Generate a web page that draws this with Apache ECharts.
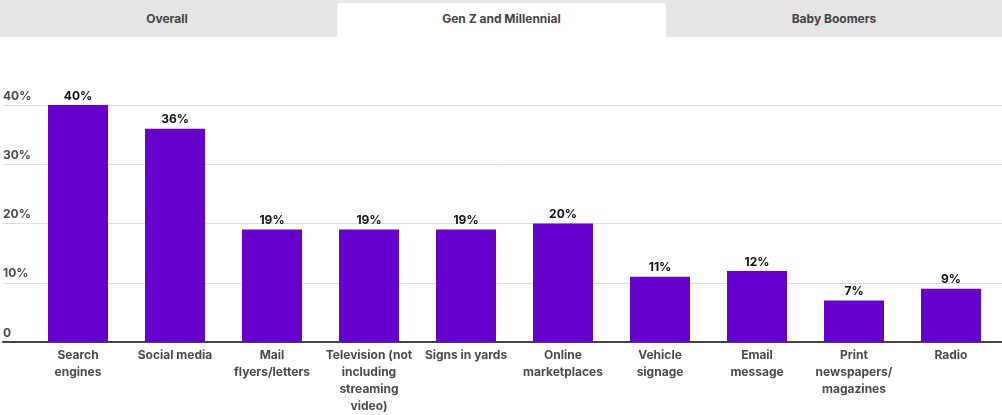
<!DOCTYPE html>
<html>
<head>
<meta charset="utf-8">
<script src="https://cdn.jsdelivr.net/npm/echarts@6/dist/echarts.min.js"></script>
<style>
  html, body { margin: 0; padding: 0; background: #fff; }
  body { width: 1002px; height: 415px; position: relative; overflow: hidden; font-family: Inter, "Open Sans", sans-serif; }
  .tabs { position: absolute; left: 0; top: 0; width: 1002px; height: 37px; background: #e5e5e5; z-index: 2; }
  .tab { position: absolute; top: 0; height: 37px; line-height: 37px; text-align: center; font-size: 12px; font-weight: 700; color: #444; }
  .tab.active { top: 3px; height: 34px; line-height: 31px; background: #fff; border-radius: 4px 4px 0 0; }
  #chart { position: absolute; left: 0; top: 0; width: 1002px; height: 415px; }
</style>
</head>
<body>
<div id="chart"></div>
<div class="tabs" id="tabs"></div>
<script>
const tabNames = ['Overall', 'Gen Z and Millennial', 'Baby Boomers'];
const activeTab = 1;

const categories = [
  'Search\nengines',
  'Social media',
  'Mail\nflyers/letters',
  'Television (not\nincluding\nstreaming\nvideo)',
  'Signs in yards',
  'Online\nmarketplaces',
  'Vehicle\nsignage',
  'Email\nmessage',
  'Print\nnewspapers/\nmagazines',
  'Radio'
];
const shares = [40, 36, 19, 19, 19, 20, 11, 12, 7, 9];
const yTicks = [0, 10, 20, 30, 40];

// tabs on top
let tabsEl = document.getElementById('tabs');
let tabPos = [[0, 334], [337, 329], [666, 336]];
tabNames.forEach(function (name, i) {
    let d = document.createElement('div');
    d.className = 'tab' + (i === activeTab ? ' active' : '');
    d.style.left = tabPos[i][0] + 'px';
    d.style.width = tabPos[i][1] + 'px';
    d.textContent = name;
    tabsEl.appendChild(d);
});

const font = 'Inter, "Open Sans", sans-serif';
let chart = echarts.init(document.getElementById('chart'));
chart.setOption({
    animation: false,
    grid: [
        {left: 0, right: 0, top: 105, bottom: 73},
        {left: 29.5, right: 2.5, top: 105, bottom: 73}
    ],
    xAxis: [
        {
            gridIndex: 0,
            type: 'value',
            min: 0,
            max: 1,
            axisLine: {show: true, lineStyle: {color: '#444', width: 2}},
            axisTick: {show: false},
            axisLabel: {show: false},
            splitLine: {show: false}
        },
        {
            gridIndex: 1,
            type: 'category',
            data: categories,
            axisLine: {show: false},
            axisTick: {show: false},
            axisLabel: {
                interval: 0,
                margin: 5,
                color: '#4a4a4a',
                fontFamily: font,
                fontWeight: 'bold',
                fontSize: 12,
                lineHeight: 17
            }
        }
    ],
    yAxis: [
        {
            gridIndex: 0,
            type: 'value',
            min: 0,
            max: 40,
            interval: 10,
            axisLine: {show: false},
            axisTick: {show: false},
            splitLine: {lineStyle: {color: '#dddddd', width: 1}},
            axisLabel: {
                inside: true,
                margin: 0,
                align: 'left',
                verticalAlign: 'bottom',
                padding: [0, 0, 3, 0],
                color: '#4a4a4a',
                fontFamily: font,
                fontWeight: 'bold',
                fontSize: 12,
                customValues: yTicks,
                formatter: function (v) {
                    return v === 0 ? '0' : v + '%';
                }
            }
        },
        {
            gridIndex: 1,
            type: 'value',
            min: 0,
            max: 40,
            interval: 10,
            show: false
        }
    ],
    series: [{
        type: 'bar',
        xAxisIndex: 1,
        yAxisIndex: 1,
        data: shares,
        barWidth: 60,
        itemStyle: {color: '#6600cc'},
        label: {
            show: true,
            position: 'top',
            distance: 3,
            color: '#111',
            fontFamily: font,
            fontWeight: 'bold',
            fontSize: 12,
            formatter: '{c}%'
        }
    }]
});
</script>
</body>
</html>
